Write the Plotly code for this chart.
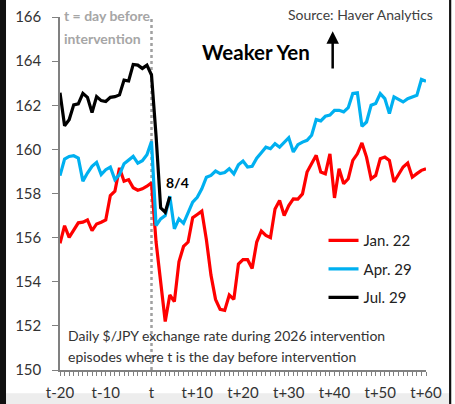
import plotly.graph_objects as go

days_pre = list(range(-20, 1))
days_post = list(range(1, 61))
days_all = days_pre + days_post
days_black = list(range(-20, 5))

jan22 = [155.74, 156.54, 156.01, 156.32, 156.67, 156.70, 156.80, 156.32, 156.62, 156.70, 156.80,
         157.91, 158.10, 159.16, 158.56, 158.63, 158.26, 158.15, 158.21, 158.33, 158.48,
         155.80, 154.10, 152.20, 153.40, 153.10, 154.90, 155.60, 155.80, 156.90, 157.05,
         157.20, 155.90, 154.30, 153.20, 152.75, 152.70, 153.40, 153.20, 154.80, 155.00,
         155.00, 154.60, 155.80, 156.30, 156.10, 156.00, 157.30, 157.68, 157.00, 157.45,
         157.76, 157.75, 157.98, 158.97, 159.35, 159.73, 158.97, 158.89, 159.80, 157.80,
         159.12, 158.44, 158.67, 159.50, 159.80, 160.29, 159.65, 158.67, 158.82, 159.58,
         159.65, 159.50, 158.52, 158.89, 159.20, 159.38, 158.74, 158.90, 159.05, 159.12]

apr29 = [158.81, 159.56, 159.68, 159.71, 159.61, 158.56, 158.93, 159.23, 159.41, 158.86, 159.08,
         159.20, 158.63, 158.86, 159.35, 159.53, 159.68, 159.38, 159.49, 159.76, 160.36,
         156.55, 156.85, 157.00, 157.88, 156.40, 156.85, 156.65, 157.15, 157.61, 157.83,
         158.21, 158.74, 158.82, 159.02, 158.90, 158.95, 159.12, 158.89, 159.30, 159.47,
         159.20, 159.23, 159.60, 159.85, 160.10, 160.03, 160.26, 160.10, 160.33, 160.53,
         159.88, 160.21, 160.33, 160.41, 160.64, 161.35, 161.29, 161.50, 161.55, 161.77,
         161.77, 161.70, 161.89, 162.53, 162.56, 161.05, 161.24, 162.00, 162.08, 162.53,
         162.30, 161.62, 162.38, 162.26, 162.15, 162.30, 162.38, 162.45, 163.17, 163.09]

jul29 = [162.57, 161.07, 161.34, 162.02, 162.06, 162.54, 162.36, 161.67, 162.39, 162.21, 162.17,
         162.36, 162.39, 162.47, 163.14, 163.10, 163.85, 163.82, 163.67, 163.82, 163.37,
         160.60, 157.35, 157.15, 157.85]

tick_vals = [-20, -10, 0, 10, 20, 30, 40, 50, 60]
tick_text = ["t-20", "t-10", "t", "t+10", "t+20", "t+30", "t+40", "t+50", "t+60"]
y_ticks = [150, 152, 154, 156, 158, 160, 162, 164, 166]

FONT = "Lato"
fig = go.Figure()
fig.add_trace(go.Scatter(x=days_all, y=jan22, mode="lines", name="Jan. 22", legendgroup="a",
                         line=dict(color="#FF0000", width=3.2)))
fig.add_trace(go.Scatter(x=days_all, y=apr29, mode="lines", name="Apr. 29", legendgroup="b",
                         line=dict(color="#00B0F0", width=3.2)))
fig.add_trace(go.Scatter(x=days_black, y=jul29, mode="lines", name="Jul. 29", legendgroup="c",
                         line=dict(color="#000000", width=3.2)))

fig.update_layout(
    width=455, height=404,
    margin=dict(l=60, r=29, t=17, b=34, autoexpand=False),
    paper_bgcolor="white", plot_bgcolor="white",
    font=dict(family=FONT, size=15, color="#333333"),
    showlegend=True,
    legend=dict(x=0.72, y=0.4135, xanchor="left", yanchor="top", bgcolor="rgba(0,0,0,0)",
                font=dict(size=15, color="#222222"), tracegroupgap=6),
    xaxis=dict(range=[-20, 60], tickvals=tick_vals, ticktext=tick_text, showgrid=False,
               zeroline=False, showline=True, linecolor="#808080", linewidth=1.5,
               ticks="outside", ticklen=4, tickcolor="#808080", automargin=False,
               minor=dict(dtick=1, ticks="outside", ticklen=4, tickcolor="#808080"),
               tickfont=dict(size=15, color="#333333"), ticklabelstandoff=4),
    yaxis=dict(range=[150, 166], tickvals=y_ticks, showgrid=False, zeroline=False,
               showline=True, linecolor="#808080", linewidth=1.5, automargin=False,
               ticks="outside", ticklen=6, tickcolor="#808080",
               tickfont=dict(size=15, color="#333333"), ticklabelstandoff=8),
)

# vertical dotted line at t
fig.add_shape(type="line", x0=0, x1=0, y0=150, y1=166, xref="x", yref="y",
              line=dict(color="#A0A0A0", width=2.5, dash="dot"), layer="below")

# frame decorations
fig.add_shape(type="rect", xref="paper", yref="paper", x0=-0.164, x1=-0.1475, y0=-0.1, y1=1.05,
              fillcolor="#111111", line=dict(width=0))
fig.add_shape(type="rect", xref="paper", yref="paper", x0=1.063, x1=1.069, y0=-0.1, y1=1.05,
              fillcolor="#111111", line=dict(width=0))
fig.add_shape(type="rect", xref="paper", yref="paper", x0=-0.1475, x1=1.063, y0=-0.1, y1=-0.066,
              fillcolor="#EDEDED", line=dict(width=0), layer="below")

ann = [
    dict(x=-19.6, y=1.003, text="<b>t = day before</b>", xanchor="left", font=dict(size=14, color="#A6A6A6")),
    dict(x=-19.6, y=0.9405, text="<b>intervention</b>", xanchor="left", font=dict(size=14, color="#A6A6A6")),
    dict(x=22.8, y=0.901, text="<b>Weaker Yen</b>", xanchor="center", font=dict(size=20.5, color="#000000")),
    dict(x=45.7, y=1.006, text="Source: Haver Analytics", xanchor="center", font=dict(size=14, color="#404040")),
    dict(x=5.7, y=0.530, text="<b>8/4</b>", xanchor="center", font=dict(size=14, color="#000000")),
    dict(x=-18.6, y=0.0985, text="Daily $/JPY exchange rate during 2026 intervention", xanchor="left",
         font=dict(size=14, color="#333333")),
    dict(x=-18.6, y=0.0390, text="episodes where t is the day before intervention", xanchor="left",
         font=dict(size=14, color="#333333")),
]
for a in ann:
    fig.add_annotation(xref="x", yref="paper", yanchor="middle", showarrow=False, **a)

fig.add_annotation(xref="x", yref="y", axref="x", ayref="y", x=39.6, y=165.35, ax=39.6, ay=163.6,
                   text="", showarrow=True, arrowhead=2, arrowsize=1, arrowwidth=2.5, arrowcolor="#000000")

fig.write_html("out.html", config={"displayModeBar": False},
               post_script="document.body.style.margin='0px';document.body.style.overflow='hidden';")
